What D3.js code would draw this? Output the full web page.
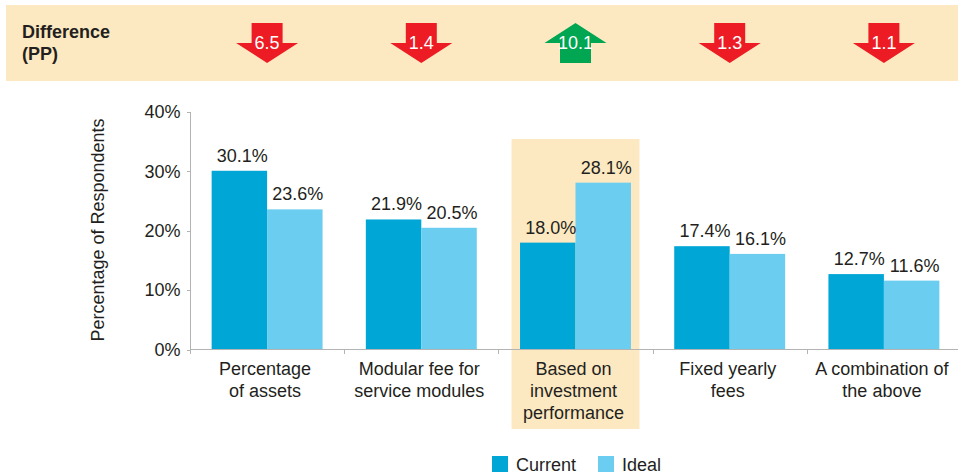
<!DOCTYPE html>
<meta charset="utf-8">
<style>
  body { margin: 0; background: #fff; }
  svg text { font-family: "Liberation Sans", Arial, sans-serif; fill: #231f20; }
  .axis path, .axis line { stroke: #b3b3b3; shape-rendering: crispEdges; }
</style>
<div class="chart"></div>
<script src="https://cdn.jsdelivr.net/npm/d3@7/dist/d3.min.js"></script>
<script>
  // data
  var categories = ["Percentage of assets", "Modular fee for service modules", "Based on investment performance", "Fixed yearly fees", "A combination of the above"];
  var catLines = [["Percentage", "of assets"], ["Modular fee for", "service modules"], ["Based on", "investment", "performance"], ["Fixed yearly", "fees"], ["A combination of", "the above"]];
  var series = ["Current", "Ideal"];
  var current = [30.1, 21.9, 18.0, 17.4, 12.7];
  var ideal = [23.6, 20.5, 28.1, 16.1, 11.6];
  var difference = [-6.5, -1.4, 10.1, -1.3, -1.1];
  var yTicks = [0, 10, 20, 30, 40];
  var highlighted = "Based on investment performance";

  var colors = {Current: "#00a6d6", Ideal: "#6bcdf0"};
  var beige = "#fde9c1";

  var W = 958, H = 476;
  var svg = d3.select(".chart").append("svg").attr("width", W).attr("height", H);

  var x = d3.scaleBand().domain(categories).range([190, 961]).padding(0);
  var x1 = d3.scaleBand().domain(series).range([0, x.bandwidth()]).paddingInner(0).paddingOuter(0.39);
  var y = d3.scaleLinear().domain([0, 40]).range([349.5, 112]);

  // banner with difference arrows
  svg.append("rect").attr("x", 6).attr("y", 5).attr("width", W - 6).attr("height", 76).attr("fill", beige);
  var head = svg.append("text").attr("x", 22).attr("font-size", "18px").attr("font-weight", "bold");
  head.append("tspan").attr("x", 22).attr("y", 37.5).text("Difference");
  head.append("tspan").attr("x", 22).attr("y", 59.5).text("(PP)");

  var downPath = "M-15.5,23H15.5V43H31L0,63L-31,43H-15.5Z";
  var upPath = "M0,23L31,43H15.5V63H-15.5V43H-31Z";
  var arrows = svg.selectAll(".arrow").data(categories).enter().append("g")
    .attr("class", "arrow")
    .attr("transform", function(d) { return "translate(" + (x(d) + x.bandwidth() / 2) + ",0)"; });
  arrows.append("path")
    .attr("d", function(d, i) { return difference[i] < 0 ? downPath : upPath; })
    .attr("fill", function(d, i) { return difference[i] < 0 ? "#ed1c24" : "#00a651"; });
  arrows.append("text")
    .attr("y", 48.5)
    .attr("text-anchor", "middle")
    .attr("font-size", "18px")
    .style("fill", "#fff")
    .text(function(d, i) { return Math.abs(difference[i]).toFixed(1); });

  // highlight box behind the third category
  svg.append("rect")
    .attr("x", x(highlighted) + x.bandwidth() / 2 - 64)
    .attr("y", 139)
    .attr("width", 128)
    .attr("height", 290)
    .attr("fill", beige);

  // y axis
  var yAxis = svg.append("g").attr("class", "axis")
    .attr("transform", "translate(190.5,0)")
    .call(d3.axisLeft(y).tickValues(yTicks).tickSize(4).tickPadding(6).tickFormat(function(d) { return d + "%"; }));
  yAxis.select(".domain").attr("d", "M0,112V349.5");
  yAxis.selectAll("text").attr("font-size", "18px").style("fill", "#231f20");

  svg.append("text")
    .attr("transform", "translate(104,230) rotate(-90)")
    .attr("text-anchor", "middle")
    .attr("font-size", "18px")
    .text("Percentage of Respondents");

  // bars
  var groups = svg.selectAll(".grp").data(categories).enter().append("g")
    .attr("class", "grp")
    .attr("transform", function(d) { return "translate(" + x(d) + ",0)"; });
  var rows = function(d, i) {
    return [{key: "Current", v: current[i]}, {key: "Ideal", v: ideal[i]}];
  };
  groups.selectAll("rect").data(rows).enter().append("rect")
    .attr("x", function(d) { return x1(d.key); })
    .attr("width", x1.bandwidth())
    .attr("y", function(d) { return y(d.v); })
    .attr("height", function(d) { return y(0) - y(d.v); })
    .attr("fill", function(d) { return colors[d.key]; });
  groups.selectAll(".val").data(rows).enter().append("text")
    .attr("class", "val")
    .attr("x", function(d) { return x1(d.key) + x1.bandwidth() / 2 + 3; })
    .attr("y", function(d) { return y(d.v) - 9; })
    .attr("text-anchor", "middle")
    .attr("font-size", "18px")
    .text(function(d) { return d.v.toFixed(1) + "%"; });

  // x axis line and boundary ticks
  var xa = svg.append("g").attr("class", "axis");
  xa.append("line").attr("x1", 190).attr("x2", W).attr("y1", 349.5).attr("y2", 349.5);
  xa.selectAll(".tk").data(categories).enter().append("line")
    .attr("class", "tk")
    .attr("x1", function(d) { return Math.round(x(d)) + 0.5; })
    .attr("x2", function(d) { return Math.round(x(d)) + 0.5; })
    .attr("y1", 349.5).attr("y2", 354);

  // category labels
  var labels = svg.selectAll(".cat").data(categories).enter().append("text")
    .attr("class", "cat")
    .attr("text-anchor", "middle")
    .attr("font-size", "18px");
  labels.each(function(d, i) {
    var t = d3.select(this);
    catLines[i].forEach(function(line, k) {
      t.append("tspan").attr("x", x(d) + x.bandwidth() / 2 - 2).attr("y", 375 + k * 22).text(line);
    });
  });

  // legend
  var legX = [492, 598];
  var leg = svg.selectAll(".leg").data(series).enter().append("g")
    .attr("class", "leg")
    .attr("transform", function(d, i) { return "translate(" + legX[i] + ",456)"; });
  leg.append("rect").attr("width", 16).attr("height", 16).attr("fill", function(d) { return colors[d]; });
  leg.append("text").attr("x", 24).attr("y", 15).attr("font-size", "18px").text(function(d) { return d; });
</script>
